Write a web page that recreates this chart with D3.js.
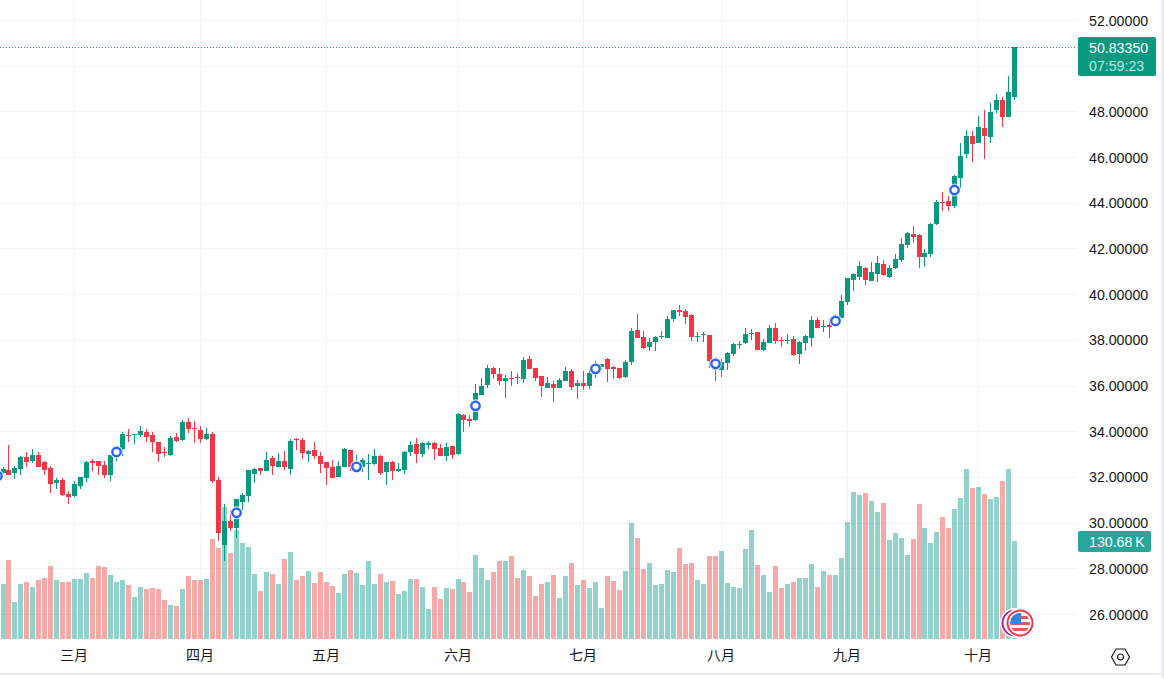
<!DOCTYPE html>
<html>
<head>
<meta charset="utf-8">
<script src="https://cdn.jsdelivr.net/npm/d3@7"></script>
<style>
  html, body { margin: 0; padding: 0; background: #fff; overflow: hidden; }
  text { font-family: "Liberation Sans", Arial, sans-serif; }
  .month text { font-family: "Noto Sans CJK SC", sans-serif; }
</style>
</head>
<body>
<div id="chart"></div>
<script>
var monthLabels = ["三月","四月","五月","六月","七月","八月","九月","十月"];
var monthBars = [12,33,54,76,97,120,141,163];
var priceTicks = [52,50,48,46,44,42,40,38,36,34,32,30,28,26];
var priceLabelTicks = [52,48,46,44,42,40,38,36,34,32,30,28,26];

var opens = [
  32.18,32.31,32.18,32.35,32.88,32.70,32.96,32.66,32.39,31.74,
  31.87,31.26,31.17,31.61,31.96,32.70,32.70,32.53,32.09,32.86,
  33.23,33.84,33.84,33.84,33.97,33.84,33.53,33.08,32.96,33.75,
  33.62,34.41,34.15,34.06,33.66,33.88,31.87,29.02,30.07,29.77,
  30.91,31.17,32.13,32.39,32.26,32.83,32.44,32.70,32.35,33.66,
  33.62,33.01,33.18,32.92,32.66,32.44,32.00,32.44,33.18,32.23,
  32.44,32.57,32.57,32.92,32.22,32.66,32.26,32.31,33.09,33.44,
  33.01,33.40,33.49,33.27,32.92,33.36,33.01,34.71,34.54,34.49,
  35.59,36.03,36.77,36.51,36.20,36.33,36.38,36.29,37.16,36.77,
  36.42,35.89,36.07,35.89,36.20,36.64,35.98,36.11,35.98,36.54,
  36.81,37.16,36.81,36.77,36.38,37.03,38.43,38.13,37.69,37.91,
  38.13,38.08,38.91,39.31,39.27,39.09,38.13,38.22,38.22,37.08,
  36.68,36.99,37.38,37.78,37.86,38.26,38.35,37.56,37.86,38.52,
  38.00,37.95,38.04,37.38,37.86,38.08,38.87,38.56,38.65,38.65,
  38.96,39.66,40.62,40.75,41.15,40.58,40.88,41.32,40.75,41.15,
  41.50,42.15,42.63,42.59,41.63,41.76,43.07,44.03,44.08,43.86,
  45.09,46.14,46.92,46.62,47.27,46.88,48.06,48.50,47.75,48.63
];
var highs = [
  32.45,33.40,32.48,32.92,33.09,33.23,33.09,32.70,32.48,31.96,
  31.96,31.39,31.83,32.00,32.70,32.79,32.70,32.70,32.96,33.25,
  33.97,34.10,33.88,34.23,34.10,33.97,33.53,33.31,33.79,33.93,
  34.49,34.58,34.45,34.23,34.15,33.97,32.00,30.82,30.56,31.04,
  31.30,32.31,32.39,32.39,33.09,32.92,33.05,33.14,33.66,33.71,
  33.71,33.18,33.53,33.09,32.66,32.74,32.70,33.27,33.18,32.96,
  32.83,33.01,33.22,32.96,32.66,32.70,32.61,33.14,33.57,33.71,
  33.53,33.57,33.53,33.44,33.49,33.36,34.80,34.76,34.71,36.07,
  36.33,36.90,36.81,36.77,36.46,36.64,36.55,37.25,37.29,36.77,
  36.42,36.38,36.20,36.33,36.81,36.73,36.24,36.64,36.68,37.08,
  36.95,37.21,36.86,36.77,37.12,38.52,39.13,38.39,38.08,38.17,
  38.39,39.05,39.31,39.53,39.35,39.13,38.35,38.35,38.22,37.24,
  37.15,37.47,37.86,37.95,38.52,38.48,38.35,38.04,38.65,38.74,
  38.13,38.26,38.17,37.95,38.22,39.05,39.00,38.87,38.91,39.13,
  39.96,40.71,40.93,41.45,41.19,41.41,41.67,41.50,41.28,41.76,
  42.46,42.72,42.98,42.63,41.98,43.12,44.12,44.47,44.30,45.22,
  46.62,47.19,47.14,47.80,48.06,48.37,48.76,48.63,49.55,50.8335
];
var lows = [
  32.13,32.10,31.93,32.09,32.44,32.61,32.44,32.09,31.30,31.48,
  31.17,30.82,31.13,31.48,31.78,32.26,32.09,31.96,31.83,32.70,
  32.92,33.53,33.44,33.75,33.53,33.09,32.66,32.88,32.92,33.53,
  33.58,33.93,33.49,33.49,33.62,31.74,29.20,28.34,29.64,29.33,
  30.56,30.91,31.74,32.09,32.26,32.09,32.44,32.31,32.09,33.18,
  32.79,32.66,32.79,32.17,31.65,31.96,32.00,32.44,32.28,32.16,
  32.22,31.87,32.53,32.09,31.65,31.87,32.22,32.13,32.92,32.61,
  32.88,33.22,32.74,32.92,32.70,32.79,32.96,33.97,34.19,34.45,
  35.59,35.89,36.29,36.03,35.46,35.98,36.07,36.11,36.73,36.20,
  35.50,35.89,35.28,35.89,36.20,35.81,35.41,35.81,35.85,36.33,
  36.68,36.16,36.29,36.29,36.33,36.90,38.08,37.60,37.51,37.51,
  38.04,38.08,38.78,39.05,38.70,37.95,37.91,37.91,36.75,36.20,
  36.38,36.68,37.30,37.60,37.82,38.00,37.56,37.51,37.86,37.82,
  37.69,37.82,37.30,36.95,37.51,37.69,38.52,38.35,38.08,38.61,
  38.96,39.53,40.14,40.62,40.40,40.58,40.53,40.80,40.71,41.10,
  41.41,42.02,42.24,41.15,41.19,41.63,43.03,43.64,43.64,43.77,
  44.65,45.96,45.79,46.62,45.92,46.62,47.93,47.32,47.75,48.50
];
var closes = [
  32.35,32.10,32.39,32.88,32.66,32.96,32.44,32.31,31.69,31.87,
  31.21,31.13,31.69,32.00,32.66,32.61,32.48,32.09,32.96,33.18,
  33.88,33.79,33.88,34.01,33.75,33.53,33.01,33.04,33.71,33.58,
  34.41,34.10,34.10,33.66,33.88,31.83,29.55,30.07,29.77,31.04,
  31.21,32.31,32.35,32.26,32.74,32.48,32.70,32.44,33.58,33.62,
  33.05,33.14,32.92,32.57,32.39,31.96,32.48,33.22,32.45,32.67,
  32.74,32.61,32.92,32.17,32.66,32.26,32.35,33.09,33.40,33.01,
  33.49,33.49,33.22,32.92,33.31,32.96,34.76,34.49,34.45,35.68,
  35.98,36.77,36.51,36.20,36.33,36.29,36.33,37.12,36.73,36.33,
  35.98,36.11,35.89,36.24,36.64,35.94,36.11,35.98,36.55,36.90,
  36.95,36.73,36.73,36.33,37.03,38.39,38.08,37.65,37.91,38.13,
  38.17,38.91,39.31,39.22,39.00,38.13,38.17,38.26,37.08,36.68,
  37.02,37.43,37.82,37.82,38.26,38.30,37.56,37.91,38.52,37.95,
  37.95,38.00,37.34,37.91,38.17,38.87,38.52,38.61,38.58,38.94,
  39.70,40.71,40.88,41.23,40.62,40.97,41.37,40.84,41.15,41.54,
  42.20,42.68,42.50,41.63,41.80,43.07,44.03,43.99,43.86,45.17,
  46.05,46.92,46.57,47.32,46.92,47.97,48.50,47.75,48.85,50.8335
];
// volume in thousands
var volumes = [
  73.3,105.3,49.3,73.3,76.0,69.3,78.7,81.3,97.3,78.7,
  76.0,76.0,80.0,80.0,88.0,81.3,97.3,96.0,85.3,76.0,
  78.7,72.0,56.0,69.3,66.7,68.0,66.7,52.0,45.3,44.0,
  66.7,84.0,78.7,78.7,80.0,133.4,121.3,176.0,114.7,145.4,
  128.0,122.7,86.7,64.0,89.3,86.7,73.3,106.7,116.0,78.7,
  84.0,90.7,74.7,89.3,76.0,70.7,61.3,86.7,92.0,88.0,
  72.0,104.0,73.3,86.7,76.0,77.3,60.0,64.0,80.0,80.0,
  69.3,40.0,69.3,53.3,68.0,66.7,80.0,76.0,62.7,112.0,
  94.7,78.7,89.3,104.0,104.0,110.7,81.3,92.0,84.0,57.3,
  73.3,76.0,85.3,54.7,84.0,101.3,72.0,78.7,68.0,76.0,
  41.3,84.0,77.3,65.3,90.7,154.7,134.7,93.3,101.3,72.0,
  73.3,92.0,89.3,121.3,100.0,101.3,78.7,73.3,110.7,110.7,
  117.3,74.7,69.3,68.0,120.0,145.4,98.7,85.3,62.7,97.3,
  68.0,73.3,76.0,81.3,81.3,100.0,69.3,90.7,85.3,85.3,
  108.0,156.0,196.0,192.0,194.7,184.0,169.4,181.4,132.0,141.4,
  134.7,112.0,133.4,180.0,148.0,128.0,142.7,162.7,148.0,173.4,
  188.0,226.7,201.4,202.7,193.4,186.7,189.4,210.7,226.7,130.68
];
var markerBars = [-1,19,39,59,79,99,119,139,159];
var markerPrices = [32.04,33.09,30.43,32.44,35.11,36.73,36.95,38.83,44.56];

var lastPrice = "50.83350", countdown = "07:59:23", lastVolume = "130.68\u2009K";

var green = "#089981", red = "#f23645", gridColor = "#f0f3fa", textColor = "#131722";
var width = 1164, height = 679;

var svg = d3.select("#chart").append("svg")
  .attr("width", width).attr("height", height)
  .style("display", "block");

var x = d3.scaleLinear().domain([0, 169]).range([3, 1014.8]);
var y = d3.scaleLinear().domain([52, 26]).range([20, 614]);
var v = d3.scaleLinear().domain([0, 130.68]).range([639, 541]);

// candles and volume bars snap to whole pixels
function barLeft(i) { return Math.round(x(i) - 2.5); }

var bars = closes.map(function(c, i) {
  return { i: i, o: opens[i], h: highs[i], l: lows[i], c: c, vol: volumes[i], up: c >= opens[i] };
});

// grid
svg.append("g").selectAll("line").data(priceTicks).join("line")
  .attr("x1", 0).attr("x2", 1077)
  .attr("y1", function(d) { return Math.round(y(d)) + 0.5; })
  .attr("y2", function(d) { return Math.round(y(d)) + 0.5; })
  .attr("stroke", gridColor);
svg.append("g").selectAll("line").data(monthBars).join("line")
  .attr("x1", function(d) { return barLeft(d) + 2.5; })
  .attr("x2", function(d) { return barLeft(d) + 2.5; })
  .attr("y1", 0).attr("y2", 639)
  .attr("stroke", gridColor);

// volume
svg.append("g").attr("shape-rendering", "crispEdges")
  .selectAll("rect").data(bars).join("rect")
  .attr("x", function(d) { return barLeft(d.i); })
  .attr("width", 5)
  .attr("y", function(d) { return v(d.vol); })
  .attr("height", function(d) { return 639 - v(d.vol); })
  .attr("fill", function(d) { return d.up ? "#26a69a" : "#ef5350"; })
  .attr("fill-opacity", 0.5);

// last price line
svg.append("line")
  .attr("x1", 0).attr("x2", 1077)
  .attr("y1", Math.round(y(50.8335)) + 0.5).attr("y2", Math.round(y(50.8335)) + 0.5)
  .attr("stroke", green).attr("stroke-dasharray", "1 2");

// candles
var candle = svg.append("g").attr("shape-rendering", "crispEdges")
  .selectAll("g").data(bars).join("g")
  .attr("fill", function(d) { return d.up ? green : red; });
candle.append("rect")
  .attr("x", function(d) { return barLeft(d.i) + 2; })
  .attr("width", 1)
  .attr("y", function(d) { return y(d.h); })
  .attr("height", function(d) { return y(d.l) - y(d.h); });
candle.append("rect")
  .attr("x", function(d) { return barLeft(d.i); })
  .attr("width", 5)
  .attr("y", function(d) { return y(Math.max(d.o, d.c)); })
  .attr("height", function(d) { return Math.max(1, Math.abs(y(d.o) - y(d.c))); });

// earnings markers
var marker = svg.append("g").selectAll("g").data(markerBars).join("g")
  .attr("transform", function(d, i) { return "translate(" + (barLeft(d) + 2.5) + "," + y(markerPrices[i]) + ")"; });
marker.append("circle").attr("r", 6.5).attr("fill", "#fff").attr("fill-opacity", 0.75);
marker.append("circle").attr("r", 4.2).attr("fill", "#fff")
  .attr("stroke", "#2962ff").attr("stroke-width", 2.4);

// axes
var yAxis = d3.axisRight(y).tickValues(priceLabelTicks).tickSize(0).tickPadding(0)
  .tickFormat(function(d) { return d3.format(".5f")(d); });
var gy = svg.append("g").attr("transform", "translate(1089,0.5)").call(yAxis);
gy.select(".domain").remove();
gy.selectAll("text").attr("font-size", 14.2).attr("fill", textColor)
  .attr("font-family", "Liberation Sans");

var xAxis = d3.axisBottom(x).tickValues(monthBars).tickSize(0).tickPadding(0)
  .tickFormat(function(d, i) { return monthLabels[i]; });
var gx = svg.append("g").attr("class", "month").attr("transform", "translate(0,650)").call(xAxis);
gx.select(".domain").remove();
gx.selectAll(".tick").attr("transform", function(d) { return "translate(" + (barLeft(d) + 2) + ",0)"; });
gx.selectAll("text").attr("font-size", 14).attr("fill", textColor)
  .attr("font-family", "Noto Sans CJK SC");

// price label
svg.append("rect").attr("x", 1078).attr("y", 37).attr("width", 78).attr("height", 39)
  .attr("rx", 2).attr("fill", green);
svg.append("text").attr("x", 1089).attr("y", 53).attr("font-size", 14.2).attr("fill", "#fff").text(lastPrice);
svg.append("text").attr("x", 1089).attr("y", 71).attr("font-size", 14.2).attr("fill", "#fff")
  .attr("fill-opacity", 0.75).text(countdown);

// volume label
svg.append("rect").attr("x", 1078).attr("y", 531).attr("width", 73).attr("height", 21)
  .attr("rx", 2).attr("fill", "#26a69a");
svg.append("text").attr("x", 1089).attr("y", 546.5).attr("font-size", 14.2).attr("fill", "#fff").text(lastVolume);

// flag badge
var badge = svg.append("g").attr("transform", "translate(1020,623)");
var clip = svg.append("clipPath").attr("id", "flagClip");
clip.append("circle").attr("r", 10);
badge.append("circle").attr("cx", -5).attr("r", 15).attr("fill", "#fff");
badge.append("circle").attr("cx", -5).attr("r", 12.5).attr("fill", "#fff")
  .attr("stroke", "#9c27b0").attr("stroke-width", 2);
badge.append("circle").attr("r", 15).attr("fill", "#fff");
badge.append("circle").attr("r", 12.5).attr("fill", "#fff")
  .attr("stroke", "#f23645").attr("stroke-width", 2);
var flag = badge.append("g").attr("clip-path", "url(#flagClip)");
flag.append("rect").attr("x", -10).attr("y", -10).attr("width", 20).attr("height", 20).attr("fill", "#fff");
flag.selectAll(".stripe").data([-7, -1, 5]).join("rect").attr("class", "stripe")
  .attr("x", -10).attr("y", function(d) { return d; })
  .attr("width", 20).attr("height", 3).attr("fill", "#f0525d");
flag.append("rect").attr("x", -10).attr("y", -10).attr("width", 11).attr("height", 10).attr("fill", "#2f86e6");

// settings icon
var icon = svg.append("g").attr("transform", "translate(1120.5,657)")
  .attr("fill", "none").attr("stroke", textColor).attr("stroke-width", 1.2);
icon.append("path").attr("d", "M-9,0 L-4.5,-8 L4.5,-8 L9,0 L4.5,8 L-4.5,8 Z");
icon.append("circle").attr("r", 3);

// page borders
svg.append("rect").attr("x", 0).attr("y", 673).attr("width", 1161).attr("height", 2).attr("fill", "#e8eaee");
svg.append("rect").attr("x", 1161.5).attr("y", 0).attr("width", 3).attr("height", 679).attr("fill", "#e8eaee");
</script>
</body>
</html>
